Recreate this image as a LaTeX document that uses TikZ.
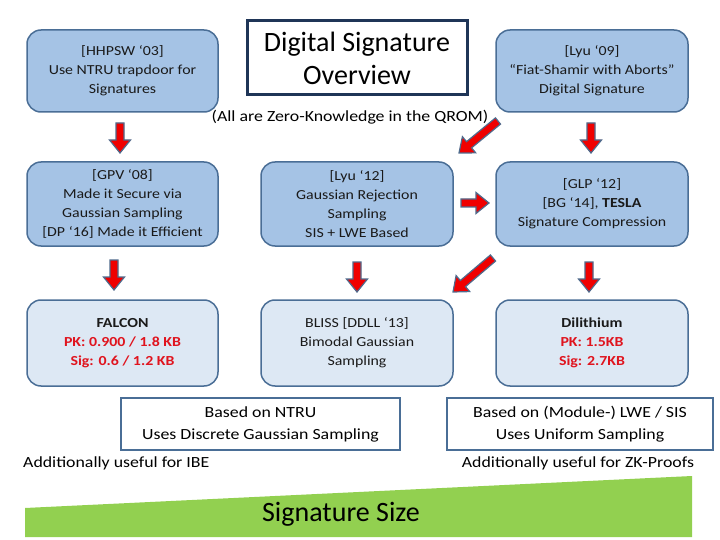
\documentclass[tikz,border=0pt]{standalone}
\usepackage{fontspec}
\setmainfont{Carlito}[Ligatures=TeX]
\newfontfamily\stretchfont{Carlito}[FakeStretch=1.15,Ligatures=TeX]
\usetikzlibrary{calc}
\definecolor{boxfill}{HTML}{A5C3E5}
\definecolor{boxlight}{HTML}{DDE8F4}
\definecolor{boxborder}{HTML}{4A6E96}
\definecolor{titleborder}{HTML}{1F3557}
\definecolor{arrowred}{HTML}{F00000}
\definecolor{arrowline}{HTML}{4F6A8C}
\definecolor{txtred}{HTML}{E0141E}
\definecolor{wedgegreen}{HTML}{92D050}
\definecolor{txtdark}{HTML}{1A1A1A}
\tikzset{
  paperbox/.style={draw=boxborder, line width=1.5pt, rounded corners=14pt, fill=boxfill,
    minimum width=191pt, minimum height=84pt, align=center, inner sep=0pt, text=txtdark,
    font=\stretchfont\fontsize{13.8}{19}\selectfont},
  lightbox/.style={paperbox, fill=boxlight, minimum height=86pt},
  titlebox/.style={draw=titleborder, line width=3pt, minimum width=220pt, minimum height=74pt,
    align=center, inner sep=0pt, font=\fontsize{28}{33}\selectfont},
  familybox/.style={draw=boxborder, line width=2pt, minimum height=52pt, align=center, inner sep=0pt,
    font=\stretchfont\fontsize{15.5}{22}\selectfont},
  plaintext/.style={inner sep=0pt, font=\stretchfont\fontsize{15.5}{22}\selectfont},
  barrow/.style={draw=arrowline, line width=1.2pt, fill=arrowred, line join=miter}
}
\newcommand\blockarrow[2]{%
  \coordinate (#1-#2-h) at ($(#2)!13pt!(#1)$);
  \draw[barrow] ($(#1)!4pt!90:(#2)$) -- ($(#1-#2-h)!4pt!90:(#2)$) -- ($(#1-#2-h)!10.5pt!90:(#2)$)
    -- (#2) -- ($(#1-#2-h)!10.5pt!-90:(#2)$) -- ($(#1-#2-h)!4pt!-90:(#2)$) -- ($(#1)!4pt!-90:(#2)$) -- cycle;}
\begin{document}
\begin{tikzpicture}[x=1pt,y=-1pt]
\useasboundingbox (0,0) rectangle (720,540);
\fill[white] (0,0) rectangle (720,540);

% top row
\node[paperbox, minimum height=82pt] (hhpsw) at (122.5,71) {[HHPSW ‘03]\\Use NTRU trapdoor for\\Signatures};
\node[titlebox] (title) at (357,58) {Digital Signature\\Overview};
\node[paperbox, minimum height=82pt, minimum width=192pt] (lyu09) at (592,71) {[Lyu ‘09]\\“Fiat-Shamir with Aborts”\\Digital Signature};
\node[plaintext] (qrom) at (350,117) {(All are Zero-Knowledge in the QROM)};

% middle row
\node[paperbox] (gpv) at (122.5,204) {[GPV ‘08]\\Made it Secure via\\Gaussian Sampling\\{[DP ‘16]} Made it Efficient};
\node[paperbox, minimum width=192pt] (lyu12) at (357,204) {[Lyu ‘12]\\Gaussian Rejection\\Sampling\\SIS + LWE Based};
\node[paperbox, minimum width=192pt] (glp) at (592,204) {[GLP ‘12]\\{[BG ‘14]}, \textbf{TESLA}\\Signature Compression};

% bottom row
\node[lightbox] (falcon) at (122.5,343) {\textbf{FALCON}\\\textcolor{txtred}{\textbf{PK: 0.900 / 1.8 KB}}\\\textcolor{txtred}{\textbf{Sig: 0.6 / 1.2 KB}}};
\node[lightbox, minimum width=192pt] (bliss) at (357,343) {BLISS [DDLL ‘13]\\Bimodal Gaussian\\Sampling};
\node[lightbox, minimum width=192pt] (dili) at (592,343) {\textbf{Dilithium}\\\textcolor{txtred}{\textbf{PK: 1.5KB}}\\\textcolor{txtred}{\textbf{Sig: 2.7KB}}};

% families
\node[familybox, minimum width=279pt] (ntru) at (260.5,424) {Based on NTRU\\Uses Discrete Gaussian Sampling};
\node[familybox, minimum width=266pt] (lwe) at (580,424) {Based on (Module-) LWE / SIS\\Uses Uniform Sampling};
\node[plaintext, anchor=west] (ibe) at (23,463) {Additionally useful for IBE};
\node[plaintext] (zk) at (578,463) {Additionally useful for ZK-Proofs};

% signature size wedge
\fill[wedgegreen] (25,508) -- (692,476) -- (692,537) -- (25,537) -- cycle;
\node[inner sep=0pt, font=\fontsize{28}{33}\selectfont] (sigsize) at (341,514) {Signature Size};

% arrow end points
\coordinate (a1s) at (120,123); \coordinate (a1e) at (120,153);
\coordinate (a2s) at (591,123); \coordinate (a2e) at (591,153);
\coordinate (a3s) at (498,121); \coordinate (a3e) at (459,153);
\coordinate (a4s) at (461,203); \coordinate (a4e) at (489,203);
\coordinate (a5s) at (114,260); \coordinate (a5e) at (114,290);
\coordinate (a6s) at (357,262); \coordinate (a6e) at (357,292);
\coordinate (a7s) at (589,262); \coordinate (a7e) at (589,292);
\coordinate (a8s) at (493,258); \coordinate (a8e) at (453,292);
\blockarrow{a1s}{a1e}
\blockarrow{a2s}{a2e}
\blockarrow{a3s}{a3e}
\blockarrow{a4s}{a4e}
\blockarrow{a5s}{a5e}
\blockarrow{a6s}{a6e}
\blockarrow{a7s}{a7e}
\blockarrow{a8s}{a8e}
\end{tikzpicture}
\end{document}
